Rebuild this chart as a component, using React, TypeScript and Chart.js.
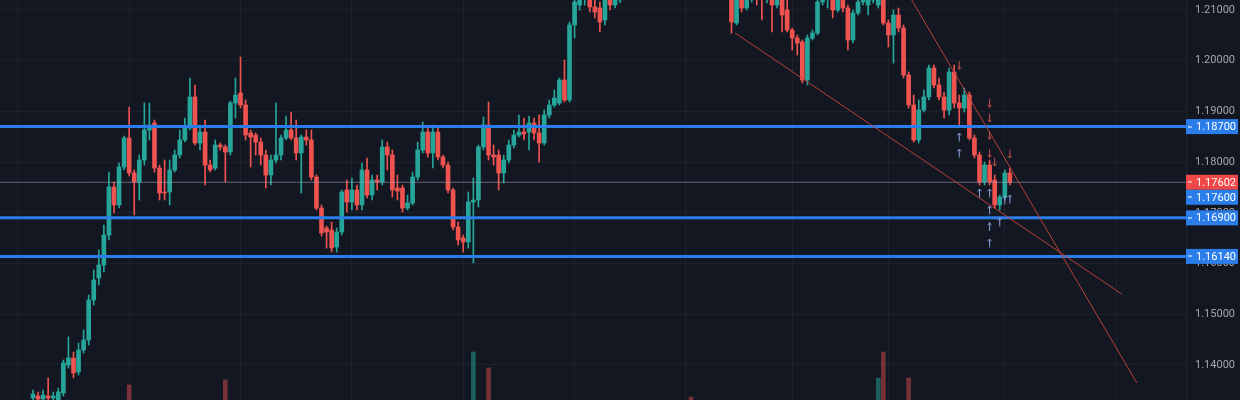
import React, { useEffect, useRef } from 'react';
import { Chart, registerables } from 'chart.js';

Chart.register(...registerables);

// ---- candle data (EURUSD-like, one candle per index) ----
const opens = [
  1.13347, 1.13387, 1.13327, 1.13387, 1.13347, 1.13308, 1.13446, 1.13998, 1.14136, 1.13860,
  1.14294, 1.14491, 1.15280, 1.15714, 1.15970, 1.16562, 1.17509, 1.17154, 1.17903, 1.18475,
  1.17785, 1.17607, 1.18041, 1.18633, 1.18771, 1.17883, 1.17410, 1.17410, 1.17844, 1.18140,
  1.18436, 1.18672, 1.19284, 1.18377, 1.18593, 1.17942, 1.17883, 1.18337, 1.18298, 1.18199,
  1.19165, 1.19363, 1.19126, 1.18574, 1.18534, 1.18396, 1.18140, 1.17745, 1.18041, 1.18140,
  1.18475, 1.18633, 1.18475, 1.18179, 1.18495, 1.18436, 1.17706, 1.17094, 1.16700, 1.16661,
  1.16325, 1.16621, 1.17450, 1.17213, 1.17450, 1.17154, 1.17844, 1.17351, 1.17647, 1.17607,
  1.18298, 1.18140, 1.17489, 1.17489, 1.17094, 1.17193, 1.17706, 1.18238, 1.18593, 1.18179,
  1.18593, 1.18100, 1.17942, 1.17450, 1.16720, 1.16503, 1.16424, 1.17213, 1.17252, 1.18298,
  1.18732, 1.18140, 1.18140, 1.17785, 1.18041, 1.18337, 1.18534, 1.18593, 1.18593, 1.18771,
  1.18574, 1.18377, 1.18929, 1.19126, 1.19165, 1.19619, 1.19225, 1.20704, 1.21098, 1.21296,
  1.21355, 1.21059, 1.21039, 1.20803, 1.21236, 1.21098, 1.21197, 1.21493, 1.21690, 1.21887,
  1.21789, 1.22085, 1.21986, 1.22282, 1.22183, 1.21986, 1.22085, 1.21887, 1.21789, 1.21986,
  1.21789, 1.21591, 1.21690, 1.21493, 1.21591, 1.21434, 1.21552, 1.21394, 1.21355, 1.20743,
  1.21296, 1.21039, 1.21256, 1.21394, 1.21296, 1.21236, 1.21296, 1.21098, 1.21256, 1.21000,
  1.20605, 1.20447, 1.20369, 1.19619, 1.20447, 1.20546, 1.21158, 1.21256, 1.21296, 1.21000,
  1.21197, 1.21039, 1.20408, 1.20941, 1.21158, 1.21098, 1.21197, 1.21098, 1.21256, 1.20743,
  1.20507, 1.20901, 1.20645, 1.19718, 1.19126, 1.18436, 1.19027, 1.19284, 1.19856, 1.19520,
  1.19284, 1.19027, 1.19777, 1.19165, 1.19067, 1.19323, 1.18475, 1.18140, 1.17607, 1.17942,
  1.17647, 1.17154, 1.17311, 1.17785,
];

const highs = [
  1.13505, 1.13466, 1.13505, 1.13742, 1.13466, 1.13544, 1.14097, 1.14550, 1.14254, 1.14432,
  1.14688, 1.15379, 1.15872, 1.16266, 1.16759, 1.17804, 1.17607, 1.17982, 1.18515, 1.19086,
  1.17844, 1.18140, 1.19165, 1.19165, 1.18830, 1.17942, 1.18041, 1.18041, 1.18238, 1.18633,
  1.18870, 1.19659, 1.19520, 1.18732, 1.18830, 1.18041, 1.18436, 1.18377, 1.18337, 1.19205,
  1.19659, 1.20073, 1.19225, 1.18633, 1.18574, 1.18475, 1.18238, 1.18140, 1.19165, 1.18534,
  1.18909, 1.18988, 1.18830, 1.18534, 1.18633, 1.18633, 1.17745, 1.17154, 1.16739, 1.16818,
  1.16700, 1.17450, 1.17647, 1.17686, 1.17548, 1.17982, 1.18081, 1.17745, 1.17745, 1.18436,
  1.18396, 1.18238, 1.17745, 1.17548, 1.17351, 1.17804, 1.18396, 1.18791, 1.18692, 1.18732,
  1.18672, 1.18140, 1.18002, 1.17489, 1.16818, 1.16562, 1.17410, 1.17686, 1.18337, 1.18889,
  1.19185, 1.18337, 1.18238, 1.18140, 1.18436, 1.18633, 1.18929, 1.18870, 1.18909, 1.18870,
  1.18929, 1.19027, 1.19225, 1.19422, 1.19659, 1.20014, 1.20763, 1.21296, 1.21493, 1.21591,
  1.21493, 1.21197, 1.21158, 1.21355, 1.21394, 1.21355, 1.21591, 1.21789, 1.21986, 1.22085,
  1.22183, 1.22282, 1.22380, 1.22420, 1.22282, 1.22183, 1.22183, 1.21986, 1.22085, 1.22085,
  1.21887, 1.21789, 1.21789, 1.21690, 1.21690, 1.21631, 1.21631, 1.21493, 1.21434, 1.21394,
  1.21394, 1.21394, 1.21493, 1.21493, 1.21394, 1.21493, 1.21394, 1.21355, 1.21355, 1.21197,
  1.20645, 1.20507, 1.20408, 1.20507, 1.20605, 1.21296, 1.21355, 1.21434, 1.21394, 1.21296,
  1.21296, 1.21098, 1.21000, 1.21256, 1.21394, 1.21296, 1.21394, 1.21394, 1.21355, 1.20803,
  1.21000, 1.21039, 1.20704, 1.19777, 1.19323, 1.19225, 1.19422, 1.19915, 1.19915, 1.19659,
  1.19382, 1.19856, 1.19915, 1.19323, 1.19461, 1.19382, 1.18534, 1.18199, 1.18002, 1.18041,
  1.17745, 1.17351, 1.17844, 1.17883,
];

const lows = [
  1.13268, 1.13229, 1.13209, 1.13249, 1.13189, 1.13209, 1.13387, 1.13938, 1.13742, 1.13801,
  1.14234, 1.14392, 1.15181, 1.15576, 1.15832, 1.16464, 1.16996, 1.17094, 1.17844, 1.17726,
  1.16956, 1.17252, 1.17942, 1.18436, 1.17804, 1.17252, 1.17252, 1.17154, 1.17804, 1.18081,
  1.18396, 1.18633, 1.18337, 1.18238, 1.17548, 1.17804, 1.17844, 1.18238, 1.17607, 1.18140,
  1.18870, 1.19067, 1.18436, 1.17903, 1.18140, 1.17942, 1.17489, 1.17548, 1.17982, 1.18041,
  1.18436, 1.18436, 1.18041, 1.17390, 1.18337, 1.17647, 1.17055, 1.16542, 1.16305, 1.16227,
  1.16227, 1.16562, 1.17015, 1.17055, 1.17055, 1.17055, 1.17292, 1.17252, 1.17450, 1.17548,
  1.17844, 1.17311, 1.17252, 1.17015, 1.17055, 1.17154, 1.17647, 1.18179, 1.18100, 1.17883,
  1.18041, 1.17883, 1.17390, 1.16661, 1.16365, 1.16227, 1.16305, 1.16010, 1.17114, 1.18238,
  1.18041, 1.17942, 1.17450, 1.17588, 1.17982, 1.18278, 1.18495, 1.18436, 1.18238, 1.18436,
  1.18002, 1.18337, 1.18870, 1.19086, 1.19126, 1.19185, 1.19185, 1.20447, 1.21000, 1.21098,
  1.20960, 1.20842, 1.20566, 1.20704, 1.21000, 1.21039, 1.21138, 1.21394, 1.21591, 1.21690,
  1.21749, 1.21887, 1.21946, 1.22085, 1.21887, 1.21887, 1.21789, 1.21690, 1.21690, 1.21690,
  1.21493, 1.21434, 1.21394, 1.21355, 1.21296, 1.21296, 1.21296, 1.21256, 1.20546, 1.20704,
  1.20960, 1.21000, 1.21158, 1.21098, 1.20803, 1.21138, 1.20566, 1.21039, 1.20566, 1.20566,
  1.20211, 1.20112, 1.19560, 1.19520, 1.20408, 1.20507, 1.21098, 1.21039, 1.20842, 1.20960,
  1.20960, 1.20211, 1.20349, 1.20901, 1.21098, 1.20901, 1.21138, 1.21039, 1.20704, 1.20270,
  1.19954, 1.20566, 1.19659, 1.19067, 1.18396, 1.18377, 1.18988, 1.19225, 1.19461, 1.19225,
  1.18870, 1.18929, 1.19067, 1.18732, 1.18988, 1.18436, 1.18081, 1.17548, 1.17548, 1.17548,
  1.17094, 1.17055, 1.17252, 1.17548,
];

const closes = [
  1.13426, 1.13327, 1.13406, 1.13347, 1.13387, 1.13466, 1.14037, 1.14136, 1.13840, 1.14294,
  1.14491, 1.15280, 1.15675, 1.15970, 1.16562, 1.17509, 1.17154, 1.17903, 1.18475, 1.17785,
  1.17607, 1.18041, 1.18633, 1.18732, 1.17883, 1.17390, 1.17390, 1.17844, 1.18140, 1.18436,
  1.18672, 1.19284, 1.18377, 1.18593, 1.17942, 1.17844, 1.18337, 1.18298, 1.18199, 1.19165,
  1.19323, 1.19126, 1.18534, 1.18495, 1.18396, 1.18140, 1.17745, 1.18041, 1.18140, 1.18475,
  1.18633, 1.18475, 1.18179, 1.18495, 1.18436, 1.17706, 1.17094, 1.16601, 1.16621, 1.16305,
  1.16621, 1.17410, 1.17213, 1.17450, 1.17154, 1.17844, 1.17351, 1.17647, 1.17607, 1.18298,
  1.18140, 1.17450, 1.17430, 1.17094, 1.17193, 1.17706, 1.18238, 1.18593, 1.18179, 1.18593,
  1.18100, 1.17942, 1.17450, 1.16720, 1.16464, 1.16424, 1.17213, 1.17252, 1.18298, 1.18732,
  1.18140, 1.18100, 1.17785, 1.18041, 1.18337, 1.18534, 1.18593, 1.18554, 1.18771, 1.18574,
  1.18377, 1.18929, 1.19126, 1.19264, 1.19619, 1.19225, 1.20704, 1.21158, 1.21355, 1.21394,
  1.21059, 1.20960, 1.20763, 1.21236, 1.21098, 1.21197, 1.21493, 1.21690, 1.21887, 1.21789,
  1.22085, 1.21986, 1.22282, 1.22183, 1.21986, 1.22085, 1.21887, 1.21789, 1.21986, 1.21789,
  1.21591, 1.21690, 1.21493, 1.21591, 1.21434, 1.21552, 1.21394, 1.21355, 1.20763, 1.21296,
  1.21039, 1.21256, 1.21394, 1.21296, 1.21236, 1.21394, 1.21098, 1.21256, 1.20901, 1.20605,
  1.20447, 1.20349, 1.19619, 1.20447, 1.20546, 1.21158, 1.21256, 1.21296, 1.21000, 1.21197,
  1.21039, 1.20408, 1.20941, 1.21158, 1.21296, 1.21197, 1.21296, 1.21296, 1.20743, 1.20507,
  1.20901, 1.20645, 1.19718, 1.19126, 1.18436, 1.19027, 1.19284, 1.19856, 1.19520, 1.19284,
  1.19027, 1.19777, 1.19165, 1.19067, 1.19323, 1.18475, 1.18140, 1.17607, 1.17942, 1.17607,
  1.17154, 1.17311, 1.17785, 1.17602,
];

// volume in thousands
const volumes = [
  9, 8, 10, 12, 9, 11, 13, 14, 12, 11,
  12, 15, 14, 13, 16, 18, 14, 12, 13, 35,
  14, 12, 15, 13, 11, 12, 10, 11, 9, 10,
  12, 16, 15, 11, 13, 9, 10, 8, 40, 14,
  13, 15, 12, 10, 9, 11, 12, 10, 13, 9,
  8, 10, 11, 12, 9, 13, 15, 14, 12, 11,
  10, 14, 12, 9, 10, 13, 12, 9, 8, 12,
  10, 11, 9, 12, 8, 10, 13, 12, 10, 11,
  9, 8, 12, 15, 13, 11, 16, 68, 18, 14,
  52, 13, 12, 9, 10, 8, 9, 11, 10, 9,
  12, 11, 10, 9, 12, 14, 17, 15, 12, 11,
  10, 9, 12, 11, 8, 9, 10, 11, 12, 9,
  10, 8, 11, 9, 10, 12, 9, 8, 10, 11,
  23, 10, 9, 8, 11, 10, 9, 12, 14, 11,
  10, 9, 8, 9, 10, 11, 12, 9, 13, 14,
  12, 11, 16, 14, 10, 13, 9, 8, 11, 10,
  9, 14, 12, 10, 9, 8, 11, 42, 68, 15,
  16, 12, 18, 42, 17, 15, 12, 13, 11, 10,
  12, 14, 13, 11, 10, 15, 14, 17, 13, 12,
  16, 13, 12, 9,
];

// horizontal levels and marks
const levelPrices = [1.187, 1.169, 1.1614];
const lastPrice = 1.17602;
const priceTicks = [1.14, 1.15, 1.16, 1.17, 1.18, 1.19, 1.2, 1.21];
const timeGrid = [-3, 19, 41, 63, 85, 107, 129, 150, 169, 192, 214];
const trendLower = [
  { x: 138.7, y: 1.20546 },
  { x: 215.1, y: 1.15398 },
];
const trendUpper = [
  { x: 169.3, y: 1.21927 },
  { x: 218.1, y: 1.13643 },
];
const downArrows = [
  { x: 183, y: 1.19915 },
  { x: 189, y: 1.19165 },
  { x: 189, y: 1.1887 },
  { x: 189, y: 1.18534 },
  { x: 189, y: 1.18179 },
  { x: 190, y: 1.18002 },
  { x: 193, y: 1.1816 },
];
const upArrows = [
  { x: 183, y: 1.18495 },
  { x: 183, y: 1.18179 },
  { x: 187, y: 1.1739 },
  { x: 189, y: 1.1739 },
  { x: 189, y: 1.17055 },
  { x: 189, y: 1.1672 },
  { x: 189, y: 1.16404 },
  { x: 191, y: 1.16818 },
  { x: 192, y: 1.17252 },
  { x: 193, y: 1.17272 },
];
const axisBoxes = [
  { value: 1.187, text: '1.18700', color: '#2b7de9' },
  { value: 1.17602, text: '1.17602', color: '#f04848' },
  { value: 1.176, text: '1.17600', color: '#2b7de9' },
  { value: 1.169, text: '1.16900', color: '#2b7de9' },
  { value: 1.1614, text: '1.16140', color: '#2b7de9' },
];

const X_MIN = -6.52;
const X_MAX = 227.8;
const Y_MIN = 1.13308;
const Y_MAX = 1.21197;

const UP = '#26a69a';
const DOWN = '#ef5350';
const BG = '#131722';

function makeArrow(color: string, up: boolean): HTMLCanvasElement {
  const c = document.createElement('canvas');
  c.width = 5;
  c.height = 9;
  const g = c.getContext('2d')!;
  g.strokeStyle = color;
  g.lineWidth = 1;
  g.beginPath();
  g.moveTo(2.5, 0.5);
  g.lineTo(2.5, 8.5);
  if (up) {
    g.moveTo(0.5, 2.5);
    g.lineTo(2.5, 0.5);
    g.lineTo(4.5, 2.5);
  } else {
    g.moveTo(0.5, 6.5);
    g.lineTo(2.5, 8.5);
    g.lineTo(4.5, 6.5);
  }
  g.stroke();
  return c;
}

export default function App() {
  const ref = useRef<HTMLCanvasElement | null>(null);

  useEffect(() => {
    document.body.style.margin = '0';
    document.body.style.background = BG;
    const canvas = ref.current!;
    const isUp = (i: number) => closes[i] >= opens[i];
    const candleColors = opens.map((_, i) => (isUp(i) ? UP : DOWN));
    const volColors = opens.map((_, i) =>
      isUp(i) ? 'rgba(38,166,154,0.5)' : 'rgba(239,83,80,0.45)'
    );

    const bgPlugin = {
      id: 'bg',
      beforeDraw(chart: any) {
        const { ctx, width, height } = chart;
        ctx.save();
        ctx.fillStyle = BG;
        ctx.fillRect(0, 0, width, height);
        ctx.restore();
      },
    };

    const boxPlugin = {
      id: 'boxes',
      afterDraw(chart: any) {
        const { ctx, chartArea } = chart;
        const ys = chart.scales.y;
        const h = 15;
        let prevBottom = -Infinity;
        ctx.save();
        ctx.font = '11px Roboto, "Open Sans", sans-serif';
        ctx.textBaseline = 'middle';
        axisBoxes.forEach((b) => {
          let cy = ys.getPixelForValue(b.value);
          if (cy - h / 2 < prevBottom) cy = prevBottom + h / 2;
          prevBottom = cy + h / 2;
          const x0 = chartArea.right;
          ctx.fillStyle = b.color;
          ctx.fillRect(x0, cy - h / 2, chart.width - x0 - 2, h);
          ctx.fillStyle = '#ffffff';
          ctx.fillRect(x0 + 2, Math.round(cy) - 0.5, 4, 1);
          ctx.fillText(b.text, x0 + 10, cy + 0.5);
        });
        ctx.restore();
      },
    };

    const levelDatasets = levelPrices.map((p) => ({
      type: 'line' as const,
      data: [
        { x: X_MIN, y: p },
        { x: X_MAX, y: p },
      ],
      borderColor: '#2b7de9',
      borderWidth: 3,
      pointRadius: 0,
      order: 2,
    }));

    const chart = new Chart(canvas, {
      type: 'bar',
      data: {
        datasets: [
          {
            type: 'bar',
            yAxisID: 'yv',
            data: volumes.map((v, i) => ({ x: i, y: v })) as any,
            backgroundColor: volColors,
            barThickness: 4,
            grouped: false,
            order: 10,
          },
          {
            type: 'bar',
            data: lows.map((l, i) => ({ x: i, y: [l, highs[i]] })) as any,
            backgroundColor: candleColors,
            barThickness: 1,
            grouped: false,
            order: 6,
          },
          {
            type: 'bar',
            data: opens.map((o, i) => ({ x: i, y: [o, closes[i]] })) as any,
            backgroundColor: candleColors,
            barThickness: 4,
            minBarLength: 1,
            grouped: false,
            order: 5,
          },
          {
            type: 'line',
            data: [
              { x: X_MIN, y: lastPrice },
              { x: X_MAX, y: lastPrice },
            ],
            borderColor: 'rgba(170,165,190,0.55)',
            borderWidth: 1,
            pointRadius: 0,
            order: 4,
          },
          ...levelDatasets,
          {
            type: 'line',
            data: trendLower,
            borderColor: '#b8403b',
            borderWidth: 1,
            pointRadius: 0,
            order: 1,
          },
          {
            type: 'line',
            data: trendUpper,
            borderColor: '#b8403b',
            borderWidth: 1,
            pointRadius: 0,
            order: 1,
          },
          {
            type: 'scatter',
            data: upArrows,
            pointStyle: makeArrow('#8ea6e0', true),
            order: 0,
          },
          {
            type: 'scatter',
            data: downArrows,
            pointStyle: makeArrow('#d0524c', false),
            order: 0,
          },
        ] as any,
      },
      options: {
        responsive: false,
        animation: false,
        events: [],
        layout: { padding: 0, autoPadding: false },
        plugins: {
          legend: { display: false },
          tooltip: { enabled: false },
        },
        scales: {
          x: {
            type: 'linear',
            min: X_MIN,
            max: X_MAX,
            offset: false,
            position: 'bottom',
            ticks: { display: false },
            grid: { color: 'rgba(255,255,255,0.045)', drawTicks: false, offset: false },
            border: { display: false },
            afterBuildTicks: (s: any) => {
              s.ticks = timeGrid.map((v) => ({ value: v }));
            },
            afterFit: (s: any) => {
              s.height = 0;
              s.paddingLeft = 0;
              s.paddingRight = 0;
            },
          },
          y: {
            type: 'linear',
            position: 'right',
            min: Y_MIN,
            max: Y_MAX,
            grid: { color: 'rgba(255,255,255,0.045)', drawTicks: false },
            border: { color: 'rgba(255,255,255,0.06)' },
            ticks: {
              color: '#a3a6af',
              font: { family: 'Roboto, "Open Sans", sans-serif', size: 11 },
              padding: 9,
              autoSkip: false,
              callback: (v: any) => Number(v).toFixed(5),
            },
            afterBuildTicks: (s: any) => {
              s.ticks = priceTicks.map((v) => ({ value: v }));
            },
            afterFit: (s: any) => {
              s.width = 54;
              s.paddingTop = 0;
              s.paddingBottom = 0;
            },
          },
          yv: {
            type: 'linear',
            display: false,
            min: 20,
            max: 420,
          },
        },
      } as any,
      plugins: [bgPlugin, boxPlugin],
    });

    return () => chart.destroy();
  }, []);

  return (
    <div style={{ width: 1240, height: 400, background: BG }}>
      <canvas ref={ref} width={1240} height={400} style={{ display: 'block' }} />
    </div>
  );
}
